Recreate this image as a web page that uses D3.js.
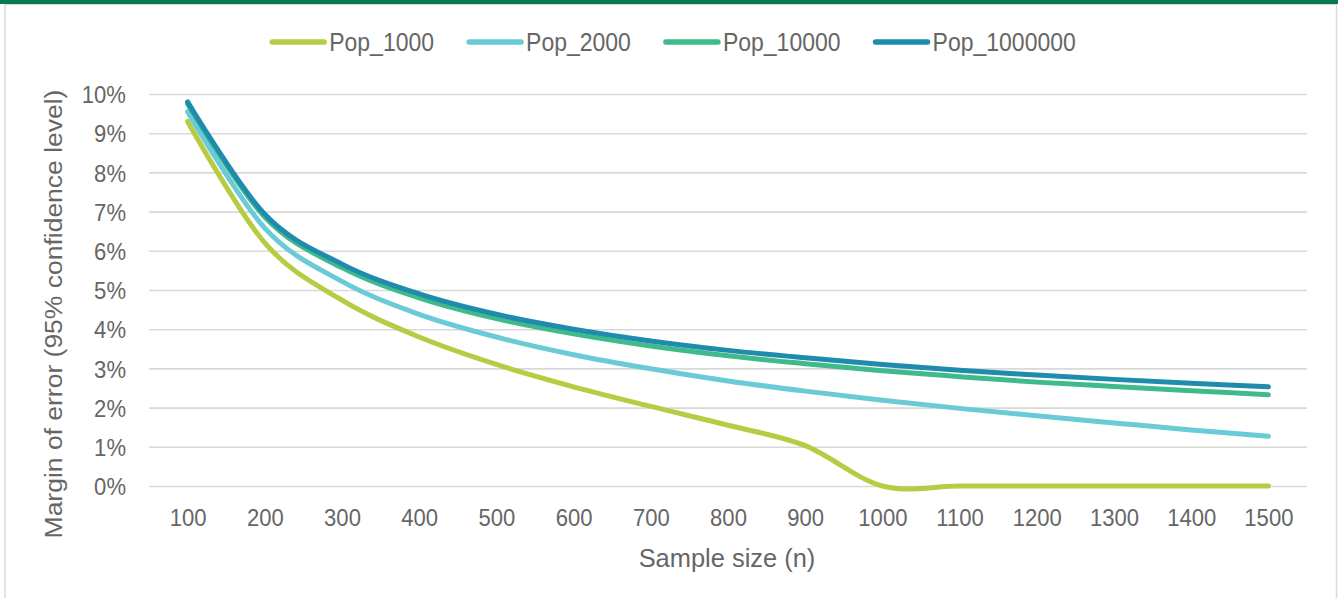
<!DOCTYPE html>
<html>
<head>
<meta charset="utf-8">
<script src="https://cdn.jsdelivr.net/npm/d3@7"></script>
<style>
  html, body { margin: 0; padding: 0; background: #ffffff; }
  svg { display: block; }
  text { font-family: "Liberation Sans", Arial, sans-serif; fill: #666666; }
</style>
</head>
<body>
<svg id="chart" width="1338" height="598"></svg>
<script>
// Sample sizes on the x axis
const sampleSizes = [100, 200, 300, 400, 500, 600, 700, 800, 900, 1000, 1100, 1200, 1300, 1400, 1500];

// Margin of error (95% confidence, p = 0.5) for each population size
const pop1000    = [0.0930, 0.0620, 0.0474, 0.0380, 0.0310, 0.0253, 0.0203, 0.0155, 0.0103, 0.0000, 0.0000, 0.0000, 0.0000, 0.0000, 0.0000];
const pop2000    = [0.0955, 0.0658, 0.0522, 0.0438, 0.0380, 0.0335, 0.0299, 0.0268, 0.0242, 0.0219, 0.0198, 0.0179, 0.0161, 0.0143, 0.0127];
const pop10000   = [0.0975, 0.0686, 0.0557, 0.0480, 0.0427, 0.0388, 0.0357, 0.0332, 0.0312, 0.0294, 0.0279, 0.0265, 0.0254, 0.0243, 0.0233];
const pop1000000 = [0.0980, 0.0693, 0.0566, 0.0490, 0.0438, 0.0400, 0.0370, 0.0346, 0.0327, 0.0310, 0.0295, 0.0283, 0.0272, 0.0262, 0.0253];

const seriesNames  = ["Pop_1000", "Pop_2000", "Pop_10000", "Pop_1000000"];
const seriesValues = [pop1000, pop2000, pop10000, pop1000000];
const seriesColors = ["#b7cb43", "#6acbd6", "#3fba8a", "#1f8bad"];

const yTicks = [0, 0.01, 0.02, 0.03, 0.04, 0.05, 0.06, 0.07, 0.08, 0.09, 0.10];

const W = 1338, H = 598;
const plot = { left: 149, right: 1307, top: 94, bottom: 486 };
const SX = 0.92;   // horizontal squeeze applied to label glyphs

const svg = d3.select("#chart");

// frame: grey outline with a green band across the top
svg.append("rect")
  .attr("x", 5).attr("y", 4.5)
  .attr("width", 1331.5).attr("height", H + 10)
  .attr("fill", "#ffffff")
  .attr("stroke", "#d9d9d9").attr("stroke-width", 1.5);
svg.append("rect")
  .attr("x", 0).attr("y", 0).attr("width", W).attr("height", 4)
  .attr("fill", "#037a4f");

const x = d3.scalePoint()
  .domain(sampleSizes)
  .range([plot.left, plot.right])
  .padding(0.5);

const y = d3.scaleLinear()
  .domain([0, 0.10])
  .range([plot.bottom, plot.top]);

// squeeze text glyphs horizontally while keeping their anchor position
function squeeze(sel, sx) {
  sel.each(function () {
    const t = d3.select(this);
    const xv = +(t.attr("x") || 0);
    t.attr("x", xv / sx).attr("transform", `scale(${sx},1)`);
  });
}

// y axis with gridlines
const yAxis = svg.append("g")
  .attr("transform", `translate(${plot.left},0)`)
  .call(d3.axisLeft(y)
    .tickValues(yTicks)
    .tickFormat(d3.format(".0%"))
    .tickSize(-(plot.right - plot.left))
    .tickPadding(23));
yAxis.select(".domain").remove();
yAxis.selectAll(".tick line")
  .attr("stroke", "#d9d9d9").attr("stroke-width", 1.6);
yAxis.selectAll(".tick text")
  .attr("font-size", 24)
  .attr("dy", "0.36em")
  .attr("fill", "#666666");
squeeze(yAxis.selectAll(".tick text"), SX);

// x axis labels
const xAxis = svg.append("g")
  .attr("transform", `translate(0,${plot.bottom})`)
  .call(d3.axisBottom(x).tickSize(0).tickPadding(40));
xAxis.select(".domain").remove();
xAxis.selectAll(".tick text")
  .attr("font-size", 24)
  .attr("dy", "0")
  .attr("fill", "#666666");
squeeze(xAxis.selectAll(".tick text"), SX);

// smoothed series lines
const line = d3.line()
  .x((d, i) => x(sampleSizes[i]))
  .y(d => y(d))
  .curve(d3.curveCardinal.tension(0));

svg.append("g").selectAll("path")
  .data(seriesValues)
  .join("path")
  .attr("d", line)
  .attr("fill", "none")
  .attr("stroke", (d, i) => seriesColors[i])
  .attr("stroke-width", 5)
  .attr("stroke-linecap", "round")
  .attr("stroke-linejoin", "round");

// axis titles
svg.append("text")
  .attr("transform", `translate(727,567) scale(0.96,1)`)
  .attr("text-anchor", "middle")
  .attr("font-size", 26.5)
  .text("Sample size (n)");

svg.append("text")
  .attr("transform", `translate(62,314) scale(0.9,1) rotate(-90)`)
  .attr("text-anchor", "middle")
  .attr("font-size", 26.5)
  .text("Margin of error (95% confidence level)");

// legend
const legendY = 42;
const swatch = 52, gapText = 5, gapItem = 35;
const legend = svg.append("g");
const items = legend.selectAll("g")
  .data(seriesNames)
  .join("g");
items.append("line")
  .attr("x1", 0).attr("x2", swatch)
  .attr("y1", 0).attr("y2", 0)
  .attr("stroke", (d, i) => seriesColors[i])
  .attr("stroke-width", 5.5)
  .attr("stroke-linecap", "round");
items.append("text")
  .attr("x", (swatch + gapText) / SX)
  .attr("y", 0)
  .attr("dy", "0.36em")
  .attr("font-size", 25)
  .attr("transform", `scale(${SX},1)`)
  .text(d => d);

let offset = 0;
const starts = [];
items.each(function () {
  const w = d3.select(this).select("text").node().getComputedTextLength() * SX;
  starts.push(offset);
  offset += swatch + gapText + w + gapItem;
});
const total = offset - gapItem;
const legendLeft = 674 - total / 2;
items.attr("transform", (d, i) => `translate(${legendLeft + starts[i]},${legendY})`);
</script>
</body>
</html>
